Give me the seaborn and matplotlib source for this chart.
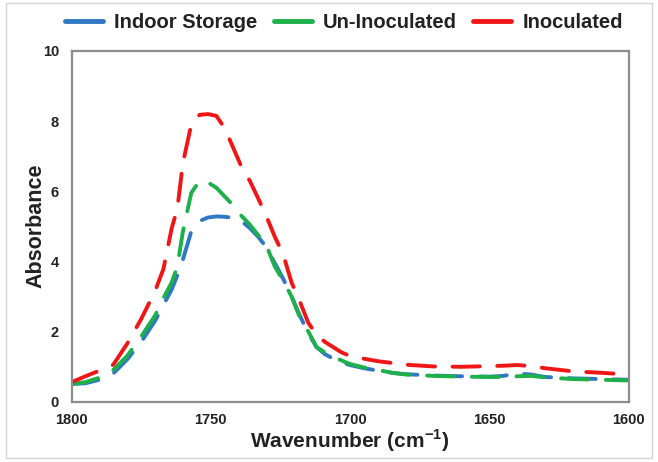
import numpy as np
import pandas as pd
import seaborn as sns
import matplotlib
matplotlib.use("Agg")
import matplotlib.pyplot as plt
from matplotlib.lines import Line2D
from matplotlib.patches import Rectangle

# ---- data ----
wavenumber = [1800, 1795, 1790, 1785, 1780, 1775, 1770, 1767, 1764, 1762, 1760, 1757,
              1754, 1751, 1748, 1745, 1742, 1739, 1736, 1733, 1730, 1727, 1724, 1721,
              1718, 1715, 1712, 1709, 1706, 1703, 1700, 1695, 1690, 1685, 1680, 1670,
              1660, 1650, 1645, 1640, 1635, 1630, 1620, 1610, 1600]

indoor_storage = [0.50, 0.52, 0.62, 0.80, 1.20, 1.70, 2.30, 2.75, 3.20, 3.60, 4.05, 4.85,
                  5.15, 5.25, 5.28, 5.27, 5.24, 5.15, 4.95, 4.70, 4.40, 3.95, 3.50, 3.00,
                  2.45, 1.95, 1.55, 1.35, 1.22, 1.12, 1.04, 0.95, 0.88, 0.82, 0.78, 0.74,
                  0.72, 0.71, 0.73, 0.80, 0.77, 0.70, 0.66, 0.64, 0.62]

un_inoculated = [0.50, 0.55, 0.68, 0.90, 1.30, 1.85, 2.45, 2.95, 3.40, 3.85, 4.85, 5.95,
                 6.30, 6.25, 6.10, 5.85, 5.60, 5.30, 5.05, 4.75, 4.45, 3.85, 3.45, 3.00,
                 2.40, 2.00, 1.55, 1.40, 1.28, 1.17, 1.07, 0.97, 0.90, 0.82, 0.77, 0.73,
                 0.71, 0.70, 0.70, 0.72, 0.73, 0.69, 0.64, 0.62, 0.60]

inoculated = [0.55, 0.72, 0.88, 1.05, 1.65, 2.35, 3.15, 3.78, 4.95, 5.50, 6.80, 7.90,
              8.18, 8.20, 8.15, 7.80, 7.25, 6.70, 6.30, 5.80, 5.28, 4.70, 4.20, 3.40,
              2.85, 2.25, 1.90, 1.70, 1.55, 1.40, 1.30, 1.22, 1.15, 1.10, 1.05, 1.00,
              0.99, 1.01, 1.02, 1.04, 1.01, 0.95, 0.86, 0.82, 0.77]

series_names = ["Indoor Storage", "Un-Inoculated", "Inoculated"]
colors = ["#2F78C4", "#1DB04B", "#F01616"]
x_ticks = [1800, 1750, 1700, 1650, 1600]
y_ticks = [0, 2, 4, 6, 8, 10]

df = pd.concat([
    pd.DataFrame({"Wavenumber": wavenumber, "Absorbance": vals, "Series": name})
    for name, vals in zip(series_names, [indoor_storage, un_inoculated, inoculated])
], ignore_index=True)

# ---- style ----
sns.set_style("white")
plt.rcParams["font.family"] = ["Liberation Sans", "DejaVu Sans"]
plt.rcParams["mathtext.fontset"] = "custom"
plt.rcParams["mathtext.rm"] = "Liberation Sans"
plt.rcParams["mathtext.bf"] = "Liberation Sans:bold"

W, H = 658, 462
fig = plt.figure(figsize=(W / 100, H / 100), dpi=100)
ax = fig.add_axes([71.5 / W, 1 - 401.5 / H, 557 / W, 350.5 / H])

palette = dict(zip(series_names, colors))
dash = (7, 4.5)
sns.lineplot(data=df, x="Wavenumber", y="Absorbance", hue="Series", style="Series",
             hue_order=series_names, style_order=series_names, palette=palette,
             dashes={n: dash for n in series_names}, linewidth=2.8, ax=ax,
             legend=False, sort=False, estimator=None)
for ln in ax.get_lines():
    ln.set_dash_capstyle("round")
    ln.set_solid_capstyle("round")

ax.set_xlim(1800, 1600)
ax.set_ylim(0, 10)
ax.set_xticks(x_ticks)
ax.set_yticks(y_ticks)
ax.tick_params(axis="both", length=0)
ax.tick_params(axis="x", pad=8, labelsize=10.5)
ax.tick_params(axis="y", pad=9, labelsize=10.5)
for lab in ax.get_xticklabels() + ax.get_yticklabels():
    lab.set_fontweight("bold")
    lab.set_color("#222222")

for sp in ax.spines.values():
    sp.set_color("#8c8c8c")
    sp.set_linewidth(1.6)

ax.set_xlabel(r"Wavenumber (cm$^{\mathbf{-1}}$)", fontsize=15, fontweight="bold", color="#222222")
ax.set_ylabel("Absorbance", fontsize=15.5, fontweight="bold", color="#222222")
ax.xaxis.set_label_coords(0.5, (401.5 - 441) / 350.5)
ax.xaxis.label.set_va("center")
ax.yaxis.set_label_coords((36 - 71.5) / 557, 0.5)
ax.yaxis.label.set_va("center")

handles = [Line2D([0], [0], color=c, lw=3.5, solid_capstyle="round") for c in colors]
leg = fig.legend(handles, series_names, loc="center", bbox_to_anchor=(344 / W, 1 - 23 / H),
                 ncol=3, frameon=False, handlelength=1.9, handletextpad=0.55,
                 columnspacing=0.8, prop={"weight": "bold", "size": 14.5})
for t in leg.get_texts():
    t.set_color("#222222")

fig.patches.append(Rectangle((6 / W, 1 - 458 / H), 646 / W, 455 / H, transform=fig.transFigure,
                             fill=False, edgecolor="#d4d4d4", linewidth=1.0))

fig.savefig("out.png", dpi=100)
